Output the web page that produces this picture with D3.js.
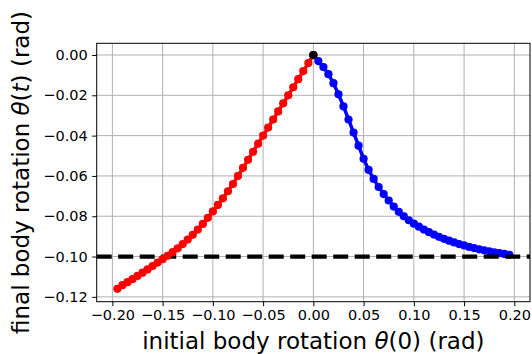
<!DOCTYPE html>
<html>
<head>
<meta charset="utf-8">
<script src="https://cdn.jsdelivr.net/npm/d3@7"></script>
<style>
  body { margin: 0; background: #fff; }
  text { font-family: "DejaVu Sans", sans-serif; fill: #000; }
</style>
</head>
<body>
<script>
// initial rotation theta(0), negative side (red) and positive side (blue)
let thetaNeg = [-0.195, -0.190, -0.185, -0.180, -0.175, -0.170, -0.165, -0.160, -0.155, -0.150,
                -0.145, -0.140, -0.135, -0.130, -0.125, -0.120, -0.115, -0.110, -0.105, -0.100,
                -0.095, -0.090, -0.085, -0.080, -0.075, -0.070, -0.065, -0.060, -0.055, -0.050,
                -0.045, -0.040, -0.035, -0.030, -0.025, -0.020, -0.015, -0.010, -0.005, 0.000]
let finalNeg = [-0.1160, -0.1142, -0.1127, -0.1112, -0.1096, -0.1080, -0.1064, -0.1047, -0.1030, -0.1013,
                -0.0996, -0.0978, -0.0959, -0.0938, -0.0916, -0.0892, -0.0866, -0.0838, -0.0808, -0.0776,
                -0.0744, -0.0711, -0.0676, -0.0640, -0.0600, -0.0560, -0.0520, -0.0480, -0.0440, -0.0400,
                -0.0360, -0.0320, -0.0280, -0.0240, -0.0200, -0.0160, -0.0120, -0.0080, -0.0040, 0.0000]
let thetaPos = [0.000, 0.005, 0.010, 0.015, 0.020, 0.025, 0.030, 0.035, 0.040, 0.045,
                0.050, 0.055, 0.060, 0.065, 0.070, 0.075, 0.080, 0.085, 0.090, 0.095,
                0.100, 0.105, 0.110, 0.115, 0.120, 0.125, 0.130, 0.135, 0.140, 0.145,
                0.150, 0.155, 0.160, 0.165, 0.170, 0.175, 0.180, 0.185, 0.190, 0.195]
let finalPos = [0.0000, -0.0030, -0.0060, -0.0095, -0.0140, -0.0195, -0.0255, -0.0320, -0.0385, -0.0450,
                -0.0515, -0.0570, -0.0615, -0.0655, -0.0690, -0.0722, -0.0752, -0.0778, -0.0800, -0.0820,
                -0.0837, -0.0852, -0.0866, -0.0879, -0.0891, -0.0902, -0.0912, -0.0921, -0.0930, -0.0938,
                -0.0945, -0.0952, -0.0958, -0.0964, -0.0969, -0.0974, -0.0979, -0.0983, -0.0987, -0.0991]
let xTicks = [-0.20, -0.15, -0.10, -0.05, 0.00, 0.05, 0.10, 0.15, 0.20]
let yTicks = [0.00, -0.02, -0.04, -0.06, -0.08, -0.10, -0.12]
let threshold = -0.10

let W = 532, H = 354
let pLeft = 96.7, pRight = 530, pTop = 43.3, pBottom = 301.7

let svg = d3.select("body").append("svg").attr("width", W).attr("height", H)

let x = d3.scaleLinear().domain([-0.2156, 0.2156]).range([pLeft, pRight])
let y = d3.scaleLinear().domain([-0.1224, 0.0058]).range([pBottom, pTop])

let fmt = d => d3.format(".2f")(d).replace("-", "\u2212")

// grid
let grid = svg.append("g").attr("stroke", "#b0b0b0").attr("stroke-width", 1)
grid.selectAll("line.gx").data(xTicks).enter().append("line").attr("class", "gx")
    .attr("x1", d => x(d)).attr("x2", d => x(d)).attr("y1", pTop).attr("y2", pBottom)
grid.selectAll("line.gy").data(yTicks).enter().append("line").attr("class", "gy")
    .attr("x1", pLeft).attr("x2", pRight).attr("y1", d => y(d)).attr("y2", d => y(d))

// axes
let xAxis = d3.axisBottom(x).tickValues(xTicks).tickFormat(fmt).tickSize(4.5).tickPadding(4)
let yAxis = d3.axisLeft(y).tickValues(yTicks).tickFormat(fmt).tickSize(4.5).tickPadding(4.5)
let gx = svg.append("g").attr("transform", "translate(0," + pBottom + ")").call(xAxis)
let gy = svg.append("g").attr("transform", "translate(" + pLeft + ",0)").call(yAxis)
for (let g of [gx, gy]) {
  g.select(".domain").remove()
  g.selectAll(".tick line").attr("stroke", "#000").attr("stroke-width", 1)
  g.selectAll(".tick text").attr("font-size", "14.5px").attr("font-family", "DejaVu Sans").attr("fill", "#000")
}

function curve(xs, ys, color) {
  let pts = xs.map((d, i) => [d, ys[i]])
  let g = svg.append("g")
  g.append("path").datum(pts)
    .attr("fill", "none").attr("stroke", color).attr("stroke-width", 3.5)
    .attr("d", d3.line().x(d => x(d[0])).y(d => y(d[1])))
  g.selectAll("circle").data(pts).enter().append("circle")
    .attr("cx", d => x(d[0])).attr("cy", d => y(d[1])).attr("r", 4.1).attr("fill", color)
}

curve(thetaPos, finalPos, "#0000ff")

svg.append("line")
    .attr("x1", pLeft).attr("x2", pRight).attr("y1", y(threshold)).attr("y2", y(threshold))
    .attr("stroke", "#000").attr("stroke-width", 4.2).attr("stroke-dasharray", "15,6.5")

curve(thetaNeg, finalNeg, "#ff0000")

svg.append("circle").attr("cx", x(0)).attr("cy", y(0)).attr("r", 4.1).attr("fill", "#000")

// frame
svg.append("rect").attr("x", pLeft).attr("y", pTop).attr("width", pRight - pLeft).attr("height", pBottom - pTop)
    .attr("fill", "none").attr("stroke", "#000").attr("stroke-width", 1)

// labels
let xl = svg.append("text").attr("x", (pLeft + pRight) / 2).attr("y", 349.3)
    .attr("text-anchor", "middle").attr("font-size", "23px")
xl.append("tspan").text("initial body rotation ")
xl.append("tspan").attr("font-style", "italic").text("\u03b8")
xl.append("tspan").text("(0) (rad)")

let yl = svg.append("text").attr("transform", "translate(28.5," + (pTop + pBottom) / 2 + ") rotate(-90)")
    .attr("text-anchor", "middle").attr("font-size", "23px")
yl.append("tspan").text("final body rotation ")
yl.append("tspan").attr("font-style", "italic").text("\u03b8")
yl.append("tspan").text("(")
yl.append("tspan").attr("font-style", "italic").text("t")
yl.append("tspan").text(") (rad)")
</script>
</body>
</html>
